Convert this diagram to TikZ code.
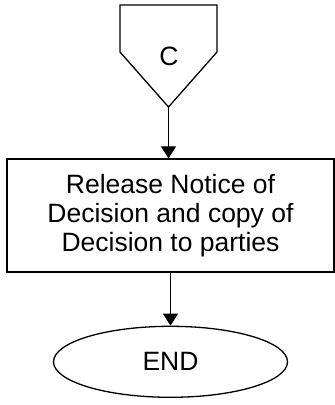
\documentclass[tikz,border=0pt]{standalone}
\usepackage{fontspec}
\setmainfont{Liberation Sans}
\usetikzlibrary{arrows.meta, positioning, shapes.geometric}

\begin{document}
\begin{tikzpicture}[x=1pt, y=1pt,
  proc/.style={draw, line width=1.3pt, minimum width=327pt, minimum height=113pt,
               align=center, font=\fontsize{26.5}{29}\selectfont, inner sep=0pt},
  term/.style={draw, ellipse, line width=1.3pt, minimum width=234pt, minimum height=71pt,
               font=\fontsize{26.5}{29}\selectfont, inner sep=0pt},
  lbl/.style={font=\fontsize{26.5}{29}\selectfont, inner sep=0pt},
  arr/.style={-{Triangle[length=12pt, width=15pt]}, line width=1.3pt},
  node distance=53pt,
]
\useasboundingbox (0,0) rectangle (335,405);
%% Off-page connector
\node[lbl] (conn) at (169,349) {C};
\coordinate (ctip) at (168.5,298);
\draw[line width=1.3pt] (120,400) -- (217,400) -- (217,353) -- (ctip) -- (120,353) -- cycle;
%% Release step
\node[proc] (act) at (170.5,189.5) {Release Notice of\\Decision and copy of\\Decision to parties};
%% End
\node[term, below=of act] (fin) {END};
\draw[arr] (ctip) -- (ctip |- act.north);
\draw[arr] (act.south) -- (fin.north);
\end{tikzpicture}
\end{document}
